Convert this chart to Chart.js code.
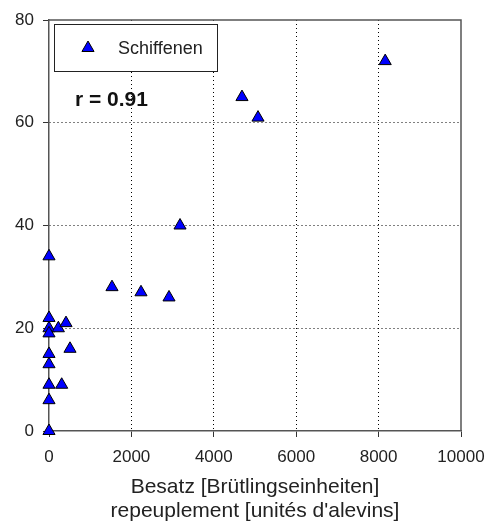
<!DOCTYPE html>
<html>
<head>
<meta charset="utf-8">
<script src="https://cdn.jsdelivr.net/npm/chart.js@4/dist/chart.umd.min.js"></script>
<style>
  html, body { margin: 0; padding: 0; background: #fff; }
  #wrap { width: 488px; height: 525px; }
</style>
</head>
<body>
<div id="wrap"><canvas id="chart" width="488" height="525"></canvas></div>
<script>
// Stocking (fry units) vs catch, Schiffenen
const seriesName = 'Schiffenen';
const stocking = [0, 0, 0, 0, 0, 0, 0, 0, 0, 227, 413, 510, 308, 1529, 2233, 2913, 3180, 4684, 5073, 8160];
const catches  = [34, 22, 20, 19, 15, 13, 9, 6, 0, 20, 21, 16, 9, 28, 27, 26, 40, 65, 61, 72];
const xTicks = [0, 2000, 4000, 6000, 8000, 10000];
const yTicks = [0, 20, 40, 60, 80];
const corrLabel = 'r = 0.91';
const xTitle = ['Besatz [Brütlingseinheiten]', "repeuplement [unités d'alevins]"];

const FONT = 'Liberation Sans, Arial, sans-serif';

// grid only on inner ticks
function innerGrid(ticks) {
  return ctx => {
    const v = ctx.tick ? ctx.tick.value : null;
    return (v === ticks[0] || v === ticks[ticks.length - 1]) ? 'rgba(0,0,0,0)' : '#000';
  };
}

// frame round the plot, legend box and r label
const extras = {
  id: 'extras',
  afterDatasetsDraw(chart) {
    const { ctx, chartArea: a } = chart;
    ctx.save();
    ctx.strokeStyle = '#555';
    ctx.lineWidth = 1.5;
    ctx.beginPath();
    ctx.moveTo(a.left, a.top);
    ctx.lineTo(a.right, a.top);
    ctx.lineTo(a.right, a.bottom);
    ctx.stroke();

    // legend
    const lx = a.left + 5, ly = a.top + 4, lw = 163, lh = 47;
    ctx.fillStyle = '#fff';
    ctx.fillRect(lx, ly, lw, lh);
    ctx.strokeStyle = '#222';
    ctx.lineWidth = 1;
    ctx.strokeRect(lx + 0.5, ly + 0.5, lw, lh);
    ctx.fillStyle = '#0000ff';
    ctx.strokeStyle = '#000';
    Chart.helpers.drawPoint(ctx, { pointStyle: 'triangle', radius: 7, borderWidth: 1 }, lx + 34, ly + 24);
    ctx.fillStyle = '#222';
    ctx.font = '18px ' + FONT;
    ctx.textBaseline = 'middle';
    ctx.textAlign = 'left';
    ctx.fillText(seriesName, lx + 64, ly + 25);

    ctx.font = 'bold 21px ' + FONT;
    ctx.fillStyle = '#111';
    ctx.fillText(corrLabel, a.left + 26, a.top + 80);
    ctx.restore();
  }
};

new Chart(document.getElementById('chart'), {
  type: 'scatter',
  data: {
    datasets: [{
      label: seriesName,
      data: stocking.map((x, i) => ({ x: x, y: catches[i] })),
      pointStyle: 'triangle',
      pointRadius: 7,
      pointHoverRadius: 7,
      backgroundColor: '#0000ff',
      borderColor: '#000',
      borderWidth: 1
    }]
  },
  options: {
    responsive: false,
    animation: false,
    clip: false,
    layout: { padding: { top: 20, right: 27, left: 0, bottom: 0 } },
    plugins: {
      legend: { display: false },
      tooltip: { enabled: false }
    },
    scales: {
      x: {
        type: 'linear',
        min: xTicks[0],
        max: xTicks[xTicks.length - 1],
        afterBuildTicks: s => { s.ticks = xTicks.map(v => ({ value: v })); },
        afterFit: s => { s.height = 94; s.paddingLeft = 0; s.paddingRight = 0; },
        grid: { color: innerGrid(xTicks), lineWidth: 1, tickColor: '#333', tickLength: 6 },
        border: { color: '#555', width: 1.5, dash: [1, 3] },
        ticks: { color: '#222', font: { family: FONT, size: 17 }, padding: 10, maxRotation: 0, callback: v => String(v) },
        title: { display: true, text: xTitle, color: '#222', font: { family: FONT, size: 21, lineHeight: 1.15 }, padding: { top: 6, bottom: 2 } }
      },
      y: {
        type: 'linear',
        min: yTicks[0],
        max: yTicks[yTicks.length - 1],
        afterBuildTicks: s => { s.ticks = yTicks.map(v => ({ value: v })); },
        afterFit: s => { s.width = 49; s.paddingTop = 0; s.paddingBottom = 0; },
        grid: { color: innerGrid(yTicks), lineWidth: 1, tickColor: '#333', tickLength: 6 },
        border: { color: '#555', width: 1.5, dash: [1, 3] },
        ticks: { color: '#222', font: { family: FONT, size: 17 }, padding: 9, callback: v => String(v) }
      }
    }
  },
  plugins: [extras]
});
</script>
</body>
</html>
